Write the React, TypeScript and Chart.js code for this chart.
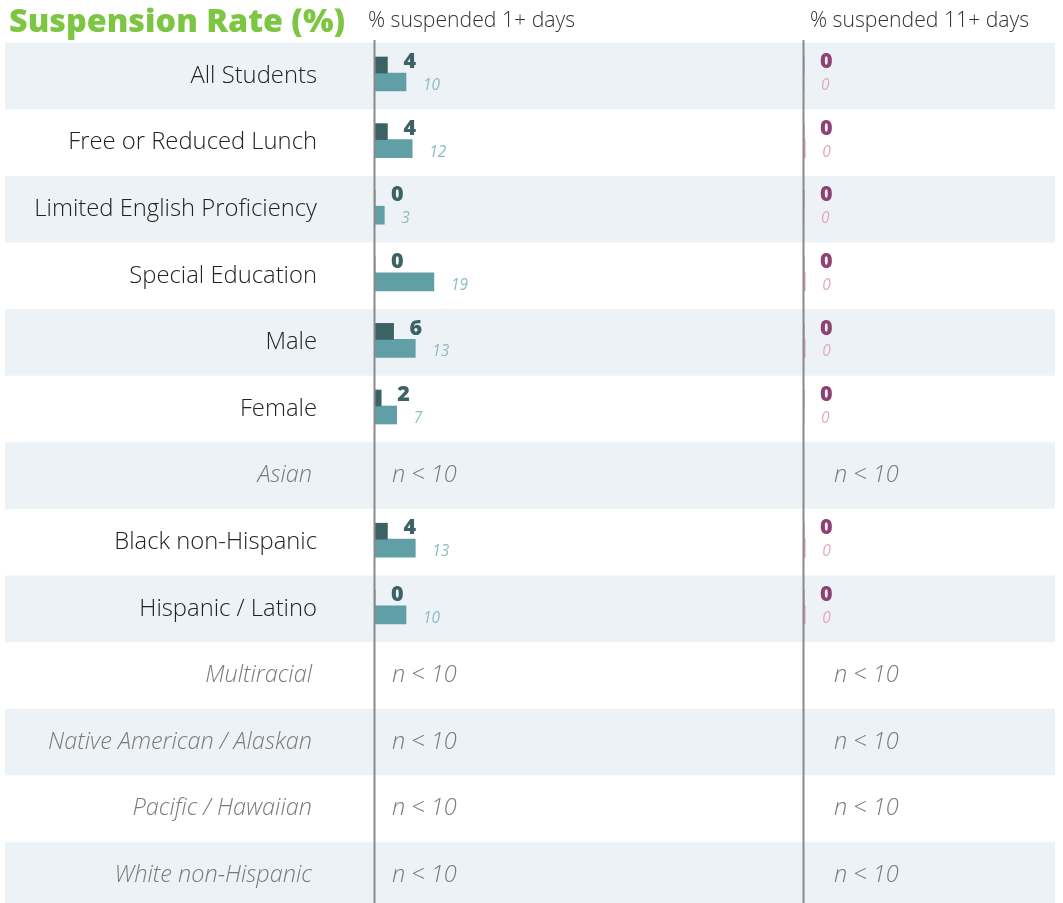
import React, { useEffect, useRef } from "react";
import { Chart, registerables } from "chart.js";

Chart.register(...registerables);

const categories = [
  "All Students",
  "Free or Reduced Lunch",
  "Limited English Proficiency",
  "Special Education",
  "Male",
  "Female",
  "Asian",
  "Black non-Hispanic",
  "Hispanic / Latino",
  "Multiracial",
  "Native American / Alaskan",
  "Pacific / Hawaiian",
  "White non-Hispanic",
];
const school1Plus: (number | null)[] = [4, 4, 0, 0, 6, 2, null, 4, 0, null, null, null, null];
const state1Plus: (number | null)[] = [10, 12, 3, 19, 13, 7, null, 13, 10, null, null, null, null];
const school11Plus: (number | null)[] = [0, 0, 0, 0, 0, 0, null, 0, 0, null, null, null, null];
const state11Plus: (number | null)[] = [0, 0.4, 0, 0.4, 0.4, 0, null, 0.4, 0.4, null, null, null, null];

const titleText = "Suspension Rate (%)";
const header1 = "% suspended 1+ days";
const header2 = "% suspended 11+ days";
const smallGroupText = "n < 10";

const W = 1063;
const H = 903;
const ROW = 66.6;
const FIRST_SPLIT = 73;
const PX_PER_UNIT = 3.1;
const ZERO1 = 375;
const ZERO2 = 804;

const FONT = '"Open Sans", "DejaVu Sans", sans-serif';

const toPoints = (arr: (number | null)[]) =>
  arr.map((v, i) => ({ x: v, y: i }));

const overlayPlugin = {
  id: "overlay",
  beforeDatasetsDraw(chart: any) {
    const ctx = chart.ctx;
    const y = chart.scales.y;
    ctx.save();
    ctx.fillStyle = "#edf2f6";
    categories.forEach((_, i) => {
      if (i % 2 !== 0) return;
      const c = y.getPixelForValue(i);
      ctx.fillRect(5, c - 30.3, 1050, ROW);
    });
    ctx.restore();
  },
  afterDatasetsDraw(chart: any) {
    const ctx = chart.ctx;
    const x = chart.scales.x;
    const x2 = chart.scales.x2;
    const y = chart.scales.y;
    ctx.save();

    // zero lines
    ctx.strokeStyle = "#8a8a8a";
    ctx.lineWidth = 2;
    [x.getPixelForValue(0) - 0.5, x2.getPixelForValue(0) - 0.5].forEach((px: number) => {
      ctx.beginPath();
      ctx.moveTo(px, 40);
      ctx.lineTo(px, H);
      ctx.stroke();
    });

    // title + headers
    ctx.textBaseline = "alphabetic";
    ctx.textAlign = "left";
    ctx.fillStyle = "#7dc642";
    ctx.font = `800 32.3px ${FONT}`;
    ctx.fillText(titleText, 9, 32);
    ctx.fillStyle = "#333333";
    ctx.font = `300 21.2px ${FONT}`;
    ctx.fillText(header1, 368, 27);
    ctx.fillText(header2, 810, 27);

    // category labels
    ctx.textBaseline = "middle";
    categories.forEach((cat, i) => {
      const c = y.getPixelForValue(i) + 3;
      const missing = school1Plus[i] === null;
      ctx.textAlign = "right";
      if (missing) {
        ctx.fillStyle = "#7a7a7a";
        ctx.font = `italic 300 23.5px ${FONT}`;
        ctx.fillText(cat, 312, c);
        ctx.textAlign = "left";
        ctx.fillText(smallGroupText, x.getPixelForValue(0) + 17, c);
        ctx.fillText(smallGroupText, x2.getPixelForValue(0) + 30, c);
      } else {
        ctx.fillStyle = "#222222";
        ctx.font = `300 23.8px ${FONT}`;
        ctx.fillText(cat, 317, c);
      }
    });

    // value labels
    const specs = [
      { idx: 0, arr: school1Plus, color: "#3d6266", font: `800 21.5px ${FONT}`, dy: -3, dx: 16 },
      { idx: 1, arr: state1Plus, color: "#8cbdc4", font: `italic 400 15.5px ${FONT}`, dy: 3.5, dx: 17 },
      { idx: 2, arr: school11Plus, color: "#8f4173", font: `800 21.5px ${FONT}`, dy: -3, dx: 16 },
      { idx: 3, arr: state11Plus, color: "#e2a9c0", font: `italic 400 15.5px ${FONT}`, dy: 3.5, dx: 17 },
    ];
    ctx.textAlign = "left";
    specs.forEach((s) => {
      const meta = chart.getDatasetMeta(s.idx);
      const scale = s.idx < 2 ? x : x2;
      ctx.fillStyle = s.color;
      ctx.font = s.font;
      s.arr.forEach((v, i) => {
        if (v === null) return;
        const el = meta.data[i];
        const px = scale.getPixelForValue(v);
        ctx.fillText(String(Math.round(v)), px + s.dx, el.y + s.dy);
      });
    });

    ctx.restore();
  },
};

export default function App() {
  const ref = useRef<HTMLCanvasElement | null>(null);

  useEffect(() => {
    if (!ref.current) return;
    const yMin = -FIRST_SPLIT / ROW;
    const yMax = yMin + H / ROW;
    const xMin = -ZERO1 / PX_PER_UNIT;
    const x2Min = -ZERO2 / PX_PER_UNIT;
    const chart = new Chart(ref.current, {
      type: "bar",
      data: {
        datasets: [
          {
            label: "School 1+ days",
            data: toPoints(school1Plus) as any,
            backgroundColor: "#3d6266",
            xAxisID: "x",
            stack: "school",
            barThickness: 16,
          },
          {
            label: "State 1+ days",
            data: toPoints(state1Plus) as any,
            backgroundColor: "#619fa7",
            xAxisID: "x",
            stack: "state",
            barThickness: 18,
          },
          {
            label: "School 11+ days",
            data: toPoints(school11Plus) as any,
            backgroundColor: "#8f4173",
            xAxisID: "x2",
            stack: "school",
            barThickness: 16,
          },
          {
            label: "State 11+ days",
            data: toPoints(state11Plus) as any,
            backgroundColor: "#e0a3bb",
            xAxisID: "x2",
            stack: "state",
            barThickness: 18,
          },
        ],
      },
      options: {
        indexAxis: "y",
        responsive: false,
        animation: false,
        layout: { padding: 0 },
        plugins: {
          legend: { display: false },
          tooltip: { enabled: false },
        },
        scales: {
          y: {
            type: "linear",
            reverse: true,
            offset: false,
            grid: { offset: false },
            min: yMin,
            max: yMax,
            display: false,
          },
          x: {
            type: "linear",
            stacked: false,
            offset: false,
            min: xMin,
            max: xMin + W / PX_PER_UNIT,
            display: false,
          },
          x2: {
            type: "linear",
            axis: "x",
            stacked: false,
            offset: false,
            min: x2Min,
            max: x2Min + W / PX_PER_UNIT,
            display: false,
          },
        },
      } as any,
      plugins: [overlayPlugin],
    });
    return () => chart.destroy();
  }, []);

  return (
    <div style={{ position: "fixed", left: 0, top: 0, width: W, height: H, background: "#ffffff" }}>
      <canvas ref={ref} width={W} height={H} style={{ display: "block" }} />
    </div>
  );
}
